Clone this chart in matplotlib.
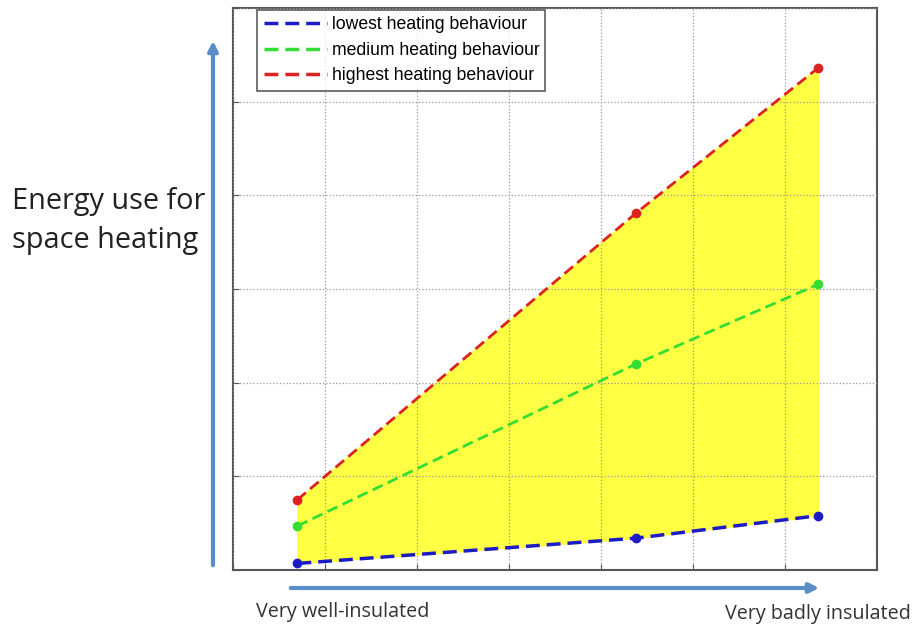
import matplotlib
matplotlib.use('Agg')
from matplotlib import pyplot as plt

# Insulation level (arbitrary units) and energy use for each behaviour.
insulation = [0.70, 4.38, 6.36]
lowest = [0.07, 0.34, 0.58]
medium = [0.47, 2.20, 3.05]
highest = [0.75, 3.81, 5.36]
labels = ['lowest heating behaviour', 'medium heating behaviour', 'highest heating behaviour']

fig = plt.figure(figsize=(9.13, 6.24), dpi=100)
ax = fig.add_axes([233/913, 1 - 570/624, 644/913, 562/624])

ax.fill_between(insulation, lowest, highest, color='#ffff44', zorder=1)
ax.plot(insulation, lowest, '--', color='#1c1cc4', lw=2.5, dashes=(4, 2), marker='o', ms=6, label=labels[0], zorder=3)
ax.plot(insulation, medium, '--', color='#33dd33', lw=2.0, dashes=(4, 2), marker='o', ms=6, label=labels[1], zorder=3)
ax.plot(insulation, highest, '--', color='#dd2222', lw=2.0, dashes=(4, 2), marker='o', ms=6, label=labels[2], zorder=3)

ax.set_xlim(0, 7)
ax.set_ylim(0, 6)
ax.set_xticks(range(8))
ax.set_yticks(range(7))
ax.set_xticklabels([])
ax.set_yticklabels([])
ax.tick_params(direction='in', length=4, color='#555555')
ax.grid(True, linestyle=':', color='#999999', lw=0.9)
ax.set_axisbelow(False)
for s in ax.spines.values():
    s.set_color('#555555')
    s.set_linewidth(1.5)

leg = ax.legend(loc='upper left', bbox_to_anchor=(0.038, 0.997), frameon=True,
                fancybox=False, edgecolor='#333333', borderpad=0.35, labelspacing=0.5,
                handlelength=3.6, handletextpad=0.25, borderaxespad=0,
                prop={'family': 'Liberation Sans', 'size': 12.7})
leg.get_frame().set_linewidth(1.2)
for h in leg.get_lines():
    h.set_marker('')
    h.set_linewidth(2.5)
    h.set_dashes((4, 2))

# Arrows and annotations outside the axes.
arrow_col = '#5b8ec6'
fig.patches.append(matplotlib.patches.FancyArrowPatch((213/913, 1 - 568/624), (213/913, 1 - 38/624),
                   transform=fig.transFigure, arrowstyle='-|>', mutation_scale=14, lw=3, color=arrow_col))
fig.patches.append(matplotlib.patches.FancyArrowPatch((288/913, 1 - 588/624), (822/913, 1 - 588/624),
                   transform=fig.transFigure, arrowstyle='-|>', mutation_scale=14, lw=3, color=arrow_col))

fig.text(12/913, 1 - 221/624, 'Energy use for\nspace heating', fontsize=20.8, family='Open Sans',
         color='#222222', ha='left', va='center', linespacing=1.45)
fig.text(256/913, 1 - 612/624, 'Very well-insulated', fontsize=14.2, family='Open Sans',
         color='#333333', ha='left', va='center')
fig.text(911/913, 1 - 614/624, 'Very badly insulated', fontsize=14.2, family='Open Sans',
         color='#333333', ha='right', va='center')

fig.savefig('out.png', dpi=100)
